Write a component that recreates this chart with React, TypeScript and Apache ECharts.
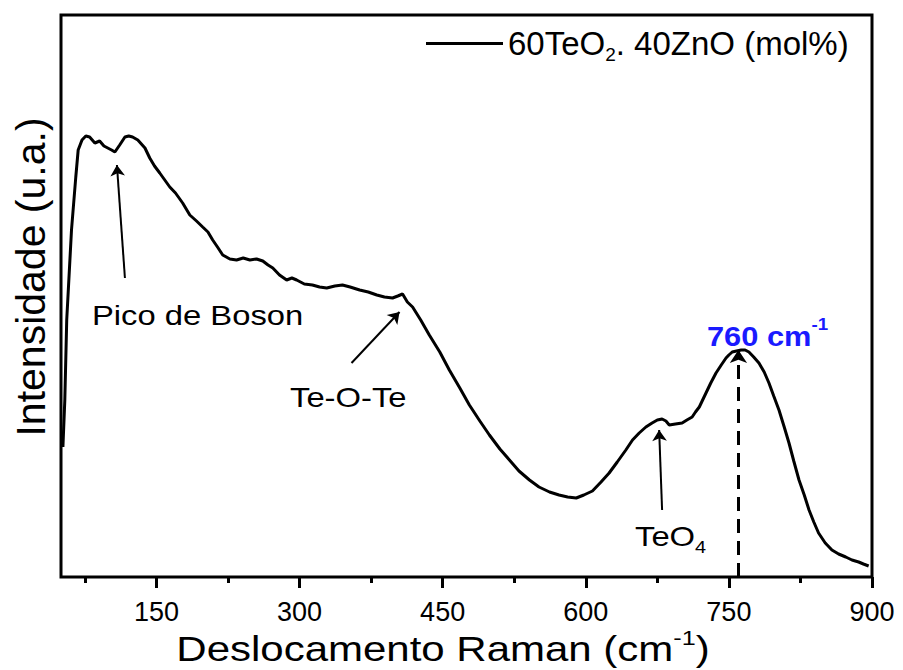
import React, { useEffect, useRef } from 'react';
import * as echarts from 'echarts';

// Raman shift (cm-1) and intensity (a.u.)
const ramanShift = [
  52, 54, 56, 61, 65.5, 68, 72, 76, 80, 85.5, 90.5, 95, 99, 103, 106.5, 111.5, 117, 121, 125, 130.5,
  138, 143, 148, 153.5, 158, 164, 170, 177.5, 185, 192, 198.5, 204, 209, 214, 219.5, 227, 234, 241,
  248, 255, 261.5, 267, 272, 279, 286.5, 292, 297, 305, 313.5, 321, 328.5, 337, 345, 353, 363, 372,
  381, 389, 397.5, 403, 408, 413, 418.5, 427, 436, 447, 457, 468, 478, 489, 499, 510, 520, 530, 541,
  551, 562, 572, 581, 590, 598, 607, 616, 624.5, 633, 642, 649, 656, 663, 669.5, 675, 680, 684, 687.5,
  694, 701, 706, 711.5, 715, 719, 722, 726, 731, 736.5, 742, 747, 750, 753.5, 758, 763, 767, 771,
  776, 781.5, 787, 792, 797, 802.5, 808, 813, 818, 823.5, 829, 834, 839, 844, 851, 858, 865, 872.5,
  879, 886, 891, 896.5, 900,
];
const intensity = [
  130, 177, 257, 347, 400, 427, 437, 441, 440, 434, 436, 431, 429, 427, 425, 432, 440, 441, 440, 437,
  429, 419, 411, 404, 398, 390, 384, 374, 362, 356, 350, 345, 337, 330, 322, 318, 317, 319, 317, 318,
  316, 312, 309, 302, 297, 299, 297, 293, 292, 290, 289, 291, 292, 290, 287, 285, 282, 280, 279, 281,
  283, 275, 270, 257, 242, 225, 207, 189, 172, 156, 142, 128, 117, 106, 97, 90, 85, 82, 80, 79, 82,
  86, 95, 104, 115, 127, 137, 144, 150, 154, 157, 158, 156, 152, 153, 154, 157, 160, 165, 170, 176,
  184, 194, 204, 212, 219, 222, 225, 226, 227, 227, 225, 220, 214, 205, 194, 181, 167, 150, 134, 116,
  97, 82, 67, 55, 44, 34, 27, 23, 20, 17, 15, 13, 11,
];

const majorTicks = [150, 300, 450, 600, 750, 900];
const minorTicks = [75, 225, 375, 525, 675, 825];
const seriesName = '60TeO2. 40ZnO (mol%)';
const peakShift = 760;
const peakIntensity = 227;
// annotation arrows: [startShift, startIntensity, endShift, endIntensity]
const arrowBoson = [117, 299, 108.6, 412];
const arrowTeOTe = [354.5, 214, 404.8, 265];
const arrowTeO4 = [680, 67, 676.9, 147];

const F = "'Liberation Sans', Arial, Helvetica, sans-serif";

export default function App() {
  const ref = useRef<HTMLDivElement>(null);
  useEffect(() => {
    document.body.style.margin = '0';
    const chart = echarts.init(ref.current!, null, { renderer: 'svg' });
    const data = ramanShift.map((x, i) => [x, intensity[i]]);
    const arrow = (a: number[]) => [
      { coord: [a[0], a[1]], symbol: 'none' },
      { coord: [a[2], a[3]], symbol: 'arrow' },
    ];
    const option: any = {
      animation: false,
      backgroundColor: '#ffffff',
      grid: {
        left: 61, right: 31, top: 15, bottom: 93,
        show: true, borderColor: '#000', borderWidth: 3, backgroundColor: 'transparent',
      },
      legend: {
        left: 421, top: 22,
        icon: 'rect',
        itemWidth: 77, itemHeight: 3, itemGap: 5,
        itemStyle: { color: '#000', borderWidth: 0 },
        data: [seriesName],
        formatter: () => '{a|60TeO}{b|2}{a|. 40ZnO (mol%)}',
        textStyle: {
          fontFamily: F, fontSize: 33, color: '#000',
          rich: {
            a: { fontFamily: F, fontSize: 33, color: '#000', lineHeight: 40, verticalAlign: 'middle' },
            b: { fontFamily: F, fontSize: 19, color: '#000', lineHeight: 19, verticalAlign: 'bottom' },
          },
        },
      },
      xAxis: [
        {
          type: 'value', min: 50, max: 900, position: 'bottom',
          axisLine: { show: false }, splitLine: { show: false },
          axisTick: { show: true, customValues: majorTicks, length: 11, lineStyle: { color: '#000', width: 3 } },
          axisLabel: { customValues: majorTicks, margin: 21, fontSize: 27, fontFamily: F, color: '#000' },
        },
        {
          type: 'value', min: 50, max: 900, position: 'bottom',
          axisLine: { show: false }, splitLine: { show: false },
          axisTick: { show: true, customValues: minorTicks, length: 6, lineStyle: { color: '#000', width: 3 } },
          axisLabel: { show: false },
        },
      ],
      yAxis: {
        type: 'value', min: 0, max: 562,
        axisLine: { show: false }, axisTick: { show: false }, axisLabel: { show: false }, splitLine: { show: false },
      },
      series: [
        {
          name: seriesName, type: 'line', xAxisIndex: 0, data,
          symbol: 'none', lineStyle: { color: '#000', width: 3 }, itemStyle: { color: '#000' },
          markLine: {
            silent: true, animation: false,
            symbol: ['none', 'arrow'], symbolSize: 11,
            label: { show: false },
            lineStyle: { color: '#000', width: 2, type: 'solid' },
            data: [
              arrow(arrowBoson),
              arrow(arrowTeOTe),
              arrow(arrowTeO4),
              [
                { coord: [peakShift, 0], symbol: 'none', lineStyle: { type: [14, 8], width: 3 } },
                { coord: [peakShift, peakIntensity], symbol: 'arrow', symbolSize: 13 },
              ],
            ],
          },
        },
      ],
      graphic: [
        {
          type: 'text', x: 443, y: 649, scaleX: 1.2,
          style: {
            text: '{a|Deslocamento Raman (cm}{s|-1}{a|)}', align: 'center', verticalAlign: 'middle',
            rich: {
              a: { fontFamily: F, fontSize: 35, fill: '#000', lineHeight: 44, verticalAlign: 'middle' },
              s: { fontFamily: F, fontSize: 21, fill: '#000', lineHeight: 21, verticalAlign: 'top' },
            },
          },
        },
        {
          type: 'text', x: 31, y: 277, rotation: Math.PI / 2,
          style: {
            text: 'Intensidade (u.a.)', align: 'center', verticalAlign: 'middle',
            fontFamily: F, fontSize: 41, fill: '#000',
          },
        },
        {
          type: 'text', x: 92, y: 315, scaleX: 1.17,
          style: { text: 'Pico de Boson', align: 'left', verticalAlign: 'middle', fontFamily: F, fontSize: 28, fill: '#000' },
        },
        {
          type: 'text', x: 290, y: 397, scaleX: 1.17,
          style: { text: 'Te-O-Te', align: 'left', verticalAlign: 'middle', fontFamily: F, fontSize: 28, fill: '#000' },
        },
        {
          type: 'text', x: 635, y: 536, scaleX: 1.17,
          style: {
            text: '{a|TeO}{b|4}', align: 'left', verticalAlign: 'middle',
            rich: {
              a: { fontFamily: F, fontSize: 28, fill: '#000', lineHeight: 40, verticalAlign: 'middle' },
              b: { fontFamily: F, fontSize: 17, fill: '#000', lineHeight: 17, verticalAlign: 'bottom' },
            },
          },
        },
        {
          type: 'text', x: 707, y: 336, scaleX: 1.1,
          style: {
            text: '{a|760 cm}{b|-1}', align: 'left', verticalAlign: 'middle',
            rich: {
              a: { fontFamily: F, fontSize: 28, fontWeight: 'bold', fill: '#1a1aff', lineHeight: 40, verticalAlign: 'middle' },
              b: { fontFamily: F, fontSize: 17, fontWeight: 'bold', fill: '#1a1aff', lineHeight: 17, verticalAlign: 'top' },
            },
          },
        },
      ],
    };
    chart.setOption(option);
    return () => chart.dispose();
  }, []);
  return <div ref={ref} style={{ width: 903, height: 670 }} />;
}
